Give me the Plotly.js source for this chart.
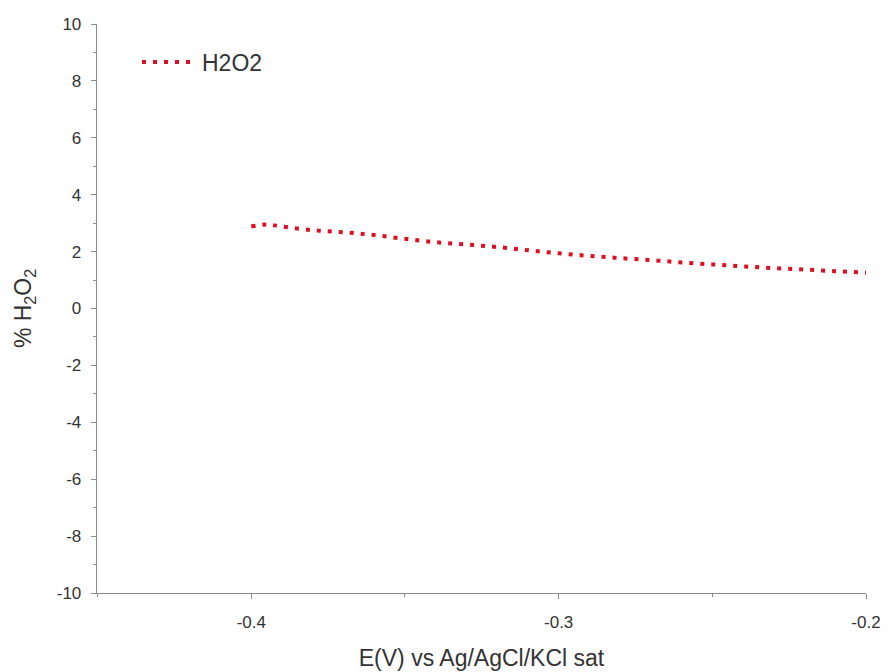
<!DOCTYPE html>
<html>
<head>
<meta charset="utf-8">
<script src="https://cdn.plot.ly/plotly-3.0.1.min.js"></script>
<style>html,body{margin:0;padding:0;background:#fff;}#chart{width:888px;height:672px;}</style>
</head>
<body>
<div id="chart"></div>
<script>
const potentialV = [-0.40, -0.395, -0.39, -0.38, -0.37, -0.36, -0.35, -0.34, -0.33, -0.32, -0.31, -0.30, -0.29, -0.28, -0.27, -0.26, -0.25, -0.24, -0.23, -0.22, -0.21, -0.20];
const h2o2Percent = [2.88, 2.95, 2.88, 2.75, 2.68, 2.58, 2.45, 2.33, 2.25, 2.16, 2.05, 1.94, 1.85, 1.77, 1.70, 1.62, 1.55, 1.48, 1.42, 1.37, 1.31, 1.26];
const seriesName = 'H2O2';
const xTickVals = [-0.4, -0.3, -0.2];
const xTickText = ['-0.4', '-0.3', '-0.2'];
const yTickVals = [-10, -8, -6, -4, -2, 0, 2, 4, 6, 8, 10];
const yTickText = ['-10', '-8', '-6', '-4', '-2', '0', '2', '4', '6', '8', '10'];

const fam = 'Liberation Sans, Arial, sans-serif';
const txt = '#333';
const axisColor = '#8c8c8c';

Plotly.newPlot('chart', [{
  x: potentialV, y: h2o2Percent, name: seriesName, type: 'scatter', mode: 'lines',
  line: {color: '#dc0f23', width: 4, dash: '4px,7px', shape: 'spline'}
}], {
  width: 888, height: 672,
  margin: {l: 97, r: 22, t: 24, b: 79},
  paper_bgcolor: '#fff', plot_bgcolor: '#fff',
  font: {family: fam, color: txt},
  showlegend: true,
  legend: {x: 0.052, y: 0.933, xanchor: 'left', yanchor: 'middle', itemwidth: 55,
           bgcolor: 'rgba(0,0,0,0)', font: {size: 23, family: fam, color: txt}},
  xaxis: {
    range: [-0.4502, -0.2], tickvals: xTickVals, ticktext: xTickText,
    showgrid: false, zeroline: false, showline: true, linecolor: axisColor, linewidth: 1.3,
    ticks: 'outside', ticklen: 5, tickcolor: axisColor, tickwidth: 1, ticklabelstandoff: 8,
    tickfont: {size: 17, family: fam, color: txt},
    minor: {dtick: 0.05, tick0: -0.45, ticks: 'outside', ticklen: 3, tickcolor: axisColor},
    title: {text: 'E(V) vs Ag/AgCl/KCl sat', font: {size: 23, family: fam, color: txt}, standoff: 19}
  },
  yaxis: {
    range: [-10, 10], tickvals: yTickVals, ticktext: yTickText,
    showgrid: false, zeroline: false, showline: true, linecolor: axisColor, linewidth: 1.3,
    ticks: 'outside', ticklen: 5, tickcolor: axisColor, tickwidth: 1, ticklabelstandoff: 6,
    tickfont: {size: 17, family: fam, color: txt},
    minor: {dtick: 1, tick0: -10, ticks: 'outside', ticklen: 3, tickcolor: axisColor},
    title: {text: '% H<sub>2</sub>O<sub>2</sub>', font: {size: 23, family: fam, color: txt}, standoff: 18}
  }
}, {displayModeBar: false, staticPlot: true});
</script>
</body>
</html>
